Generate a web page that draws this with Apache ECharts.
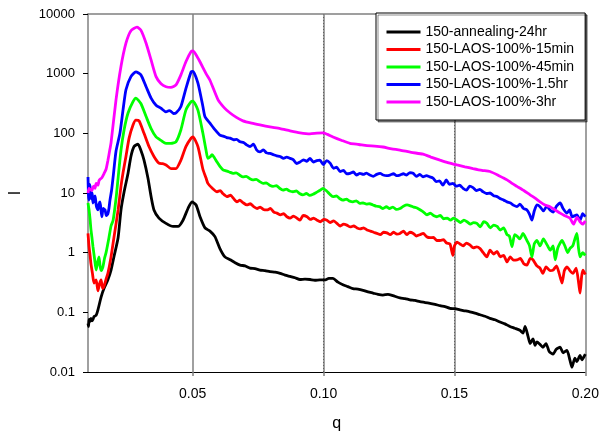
<!DOCTYPE html>
<html><head><meta charset="utf-8">
<script src="https://cdn.jsdelivr.net/npm/echarts@6/dist/echarts.min.js"></script>
<style>html,body{margin:0;padding:0;background:#fff}#c{width:602px;height:434px}</style>
</head><body><div id="c"></div>
<script>
const seriesNames = ['150-annealing-24hr','150-LAOS-100%-15min','150-LAOS-100%-45min','150-LAOS-100%-1.5hr','150-LAOS-100%-3hr'];
const seriesColors = ['#000000','#ff0000','#00ff00','#0000ff','#ff00ff'];
const xTickValues = [0.05,0.10,0.15,0.20];
const yTickLabels = ['0.01','0.1','1','10','100','1000','10000'];

const annealing24hr = [[0.0100,0.065],[0.0102,0.058],[0.0104,0.076],[0.0107,0.070],[0.0111,0.079],[0.0115,0.072],[0.0119,0.076],[0.0123,0.085],[0.0131,0.089],[0.0138,0.11],[0.0150,0.18],[0.0161,0.25],[0.0176,0.35],[0.0188,0.51],[0.0199,0.85],[0.0215,1.78],[0.0226,5.2],[0.0238,10.5],[0.0253,21.4],[0.0264,41],[0.0276,60],[0.0291,66],[0.0302,52],[0.0314,35.5],[0.0329,17.8],[0.0341,8.7],[0.0352,5.2],[0.0371,3.8],[0.0398,3.1],[0.0425,2.75],[0.0444,2.75],[0.0463,3.5],[0.0482,5.5],[0.0497,7.1],[0.0513,6.3],[0.0528,4.0],[0.0547,2.6],[0.0566,2.3],[0.0585,1.86],[0.0604,1.17],[0.0623,0.85],[0.0643,0.76],[0.0662,0.68],[0.0681,0.62],[0.0700,0.60],[0.0719,0.55],[0.0738,0.54],[0.0757,0.51],[0.0776,0.50],[0.0795,0.48],[0.0815,0.47],[0.0834,0.45],[0.0853,0.42],[0.0872,0.40],[0.0891,0.38],[0.0910,0.355],[0.0929,0.36],[0.0948,0.355],[0.0967,0.345],[0.0986,0.35],[0.1005,0.35],[0.1020,0.37],[0.1036,0.37],[0.1055,0.32],[0.1074,0.29],[0.1093,0.27],[0.1112,0.25],[0.1131,0.245],[0.1151,0.234],[0.1170,0.22],[0.1189,0.21],[0.1208,0.20],[0.1227,0.195],[0.1246,0.20],[0.1265,0.19],[0.1292,0.174],[0.1311,0.17],[0.1330,0.162],[0.1349,0.158],[0.1368,0.151],[0.1388,0.146],[0.1407,0.141],[0.1426,0.136],[0.1445,0.129],[0.1464,0.125],[0.1483,0.117],[0.1502,0.115],[0.1521,0.11],[0.1540,0.106],[0.1559,0.102],[0.1578,0.097],[0.1598,0.091],[0.1617,0.086],[0.1636,0.079],[0.1655,0.075],[0.1674,0.069],[0.1693,0.064],[0.1712,0.058],[0.1731,0.054],[0.1750,0.050],[0.1762,0.045],[0.1770,0.058],[0.1781,0.040],[0.1789,0.030],[0.1800,0.036],[0.1808,0.028],[0.1815,0.032],[0.1827,0.029],[0.1838,0.026],[0.1850,0.030],[0.1862,0.022],[0.1877,0.020],[0.1889,0.024],[0.1904,0.026],[0.1915,0.021],[0.1930,0.023],[0.1941,0.016],[0.1949,0.012],[0.1960,0.017],[0.1968,0.015],[0.1980,0.019],[0.1987,0.016],[0.2000,0.020]];

const laos15min = [[0.0100,2.1],[0.0104,1.26],[0.0108,0.9],[0.0111,0.66],[0.0117,0.45],[0.0123,0.31],[0.0131,0.35],[0.0138,0.23],[0.0144,0.3],[0.0150,0.35],[0.0156,0.25],[0.0161,0.27],[0.0169,0.36],[0.0176,0.45],[0.0188,0.85],[0.0199,1.78],[0.0215,5.2],[0.0226,12.9],[0.0234,22],[0.0245,41],[0.0257,83],[0.0272,138],[0.0283,166],[0.0295,162],[0.0314,100],[0.0333,60],[0.0352,41],[0.0371,31.6],[0.0385,31],[0.0398,29.5],[0.0417,25.7],[0.0436,25.7],[0.0455,35.5],[0.0474,60],[0.0494,83],[0.0501,87],[0.0520,60],[0.0539,25],[0.0551,17.8],[0.0558,14.5],[0.0575,12],[0.0593,10.5],[0.0605,11],[0.0615,9.8],[0.0631,8.7],[0.0645,9.2],[0.0655,8.2],[0.0669,7.1],[0.0680,7.6],[0.0692,6.9],[0.0707,6.3],[0.0720,6.6],[0.0733,5.9],[0.0746,5.5],[0.0758,5.8],[0.0770,5.3],[0.0784,5.2],[0.0797,5.5],[0.0810,4.8],[0.0822,4.6],[0.0835,4.3],[0.0847,4.5],[0.0860,4.0],[0.0872,3.8],[0.0885,4.1],[0.0898,3.8],[0.0910,3.5],[0.0922,4.2],[0.0937,4.0],[0.0950,3.6],[0.0962,3.8],[0.0975,3.5],[0.0988,3.3],[0.1000,3.6],[0.1013,3.5],[0.1025,3.2],[0.1038,3.4],[0.1051,3.1],[0.1064,2.8],[0.1076,3.0],[0.1089,2.9],[0.1102,2.7],[0.1115,2.8],[0.1128,2.6],[0.1140,2.5],[0.1153,2.6],[0.1166,2.4],[0.1179,2.3],[0.1191,2.2],[0.1204,2.1],[0.1217,2.0],[0.1229,2.2],[0.1242,2.15],[0.1255,2.0],[0.1267,2.2],[0.1280,2.05],[0.1292,2.1],[0.1305,2.3],[0.1318,2.0],[0.1330,2.2],[0.1343,2.1],[0.1355,1.9],[0.1368,2.0],[0.1381,2.1],[0.1394,1.85],[0.1407,1.78],[0.1420,1.8],[0.1432,1.6],[0.1445,1.6],[0.1458,1.65],[0.1470,1.45],[0.1483,1.4],[0.1494,0.9],[0.1500,1.3],[0.1510,1.5],[0.1521,1.4],[0.1533,1.3],[0.1546,1.45],[0.1559,1.35],[0.1572,1.2],[0.1585,1.25],[0.1598,1.17],[0.1610,1.0],[0.1624,0.85],[0.1636,1.1],[0.1650,0.95],[0.1663,1.05],[0.1675,0.85],[0.1688,0.9],[0.1701,0.7],[0.1713,0.85],[0.1726,0.75],[0.1739,0.76],[0.1752,0.8],[0.1765,0.65],[0.1777,0.62],[0.1790,0.8],[0.1800,0.76],[0.1815,0.6],[0.1827,0.55],[0.1838,0.45],[0.1850,0.58],[0.1865,0.5],[0.1877,0.51],[0.1890,0.6],[0.1900,0.45],[0.1911,0.31],[0.1920,0.5],[0.1930,0.58],[0.1941,0.5],[0.1953,0.45],[0.1965,0.55],[0.1975,0.3],[0.1980,0.21],[0.1986,0.4],[0.1991,0.51],[0.2000,0.43]];

const laos45min = [[0.0100,6.8],[0.0104,5.2],[0.0108,3.6],[0.0111,2.5],[0.0115,1.8],[0.0119,1.26],[0.0125,0.8],[0.0131,0.51],[0.0137,0.7],[0.0142,0.85],[0.0146,0.6],[0.0150,0.5],[0.0157,0.58],[0.0163,0.8],[0.0169,1.0],[0.0180,1.78],[0.0188,2.8],[0.0196,3.5],[0.0207,8],[0.0215,17.8],[0.0226,52],[0.0238,115],[0.0253,219],[0.0272,339],[0.0283,389],[0.0302,316],[0.0322,191],[0.0341,120],[0.0360,87],[0.0379,76],[0.0398,68],[0.0417,68],[0.0436,72],[0.0455,115],[0.0474,245],[0.0494,339],[0.0501,347],[0.0520,245],[0.0539,100],[0.0551,52],[0.0558,38],[0.0566,40],[0.0574,44],[0.0583,39],[0.0593,33],[0.0604,28],[0.0616,24.5],[0.0628,23.5],[0.0640,22.5],[0.0654,21.4],[0.0666,21.8],[0.0680,19.8],[0.0692,18.6],[0.0705,19],[0.0717,17.5],[0.0730,16.6],[0.0743,16.9],[0.0756,15.5],[0.0769,14.5],[0.0781,14.8],[0.0794,13.5],[0.0807,12.9],[0.0820,13.3],[0.0832,12.0],[0.0845,11.2],[0.0858,11.6],[0.0870,10.8],[0.0883,10.5],[0.0896,10.8],[0.0908,9.8],[0.0921,9.3],[0.0934,9.8],[0.0947,9.1],[0.0960,9.5],[0.0972,10.2],[0.0985,11],[0.0998,12],[0.1010,11],[0.1023,9.6],[0.1036,8.7],[0.1049,8.9],[0.1061,8.1],[0.1074,7.6],[0.1087,7.9],[0.1100,7.3],[0.1112,7.1],[0.1125,7.4],[0.1138,6.7],[0.1151,6.8],[0.1164,6.5],[0.1176,6.6],[0.1189,6.3],[0.1202,6.0],[0.1214,5.9],[0.1227,5.5],[0.1240,5.9],[0.1252,5.5],[0.1265,5.8],[0.1278,5.3],[0.1292,5.5],[0.1305,6.0],[0.1319,6.3],[0.1332,6.1],[0.1345,5.8],[0.1357,5.6],[0.1370,5.2],[0.1382,4.8],[0.1395,4.3],[0.1408,4.6],[0.1420,4.2],[0.1433,4.0],[0.1446,4.2],[0.1459,3.7],[0.1472,3.8],[0.1485,3.5],[0.1497,3.8],[0.1510,3.5],[0.1523,3.2],[0.1536,3.5],[0.1548,3.3],[0.1561,3.0],[0.1573,3.2],[0.1586,3.1],[0.1599,2.7],[0.1612,3.3],[0.1624,3.1],[0.1637,2.6],[0.1650,2.9],[0.1663,2.75],[0.1675,2.4],[0.1688,2.6],[0.1701,2.0],[0.1710,1.9],[0.1720,1.26],[0.1730,2.0],[0.1739,1.9],[0.1750,1.7],[0.1762,2.1],[0.1777,1.6],[0.1787,1.3],[0.1796,0.85],[0.1805,1.4],[0.1815,1.6],[0.1827,1.3],[0.1840,1.7],[0.1854,1.35],[0.1866,1.1],[0.1877,1.3],[0.1885,0.76],[0.1895,1.2],[0.1911,1.6],[0.1922,1.3],[0.1933,1.0],[0.1941,1.17],[0.1952,1.3],[0.1962,1.8],[0.1968,2.1],[0.1974,1.2],[0.1980,0.85],[0.1990,1.0],[0.2000,0.9]];

const laos1_5hr = [[0.0100,18.6],[0.0102,9],[0.0104,7.6],[0.0106,14],[0.0108,12.6],[0.0112,8],[0.0116,10],[0.0119,6.8],[0.0123,7.5],[0.0127,8.9],[0.0132,6],[0.0138,5.2],[0.0142,6.5],[0.0146,7.1],[0.0150,5],[0.0153,4.0],[0.0158,5.5],[0.0165,5.2],[0.0170,4.2],[0.0176,4.5],[0.0180,5.5],[0.0184,7.6],[0.0190,11],[0.0196,18.6],[0.0207,50],[0.0222,100],[0.0234,250],[0.0245,537],[0.0264,891],[0.0283,1072],[0.0302,955],[0.0322,603],[0.0341,389],[0.0360,295],[0.0379,263],[0.0398,229],[0.0410,240],[0.0417,234],[0.0426,215],[0.0436,219],[0.0455,282],[0.0474,562],[0.0494,1072],[0.0501,1096],[0.0520,692],[0.0539,282],[0.0547,190],[0.0566,148],[0.0585,115],[0.0604,93],[0.0617,90],[0.0630,85],[0.0643,83],[0.0656,78],[0.0668,79],[0.0681,72],[0.0694,70],[0.0706,64],[0.0719,60],[0.0732,66],[0.0744,53],[0.0757,49],[0.0770,53],[0.0782,47],[0.0795,46],[0.0808,44],[0.0821,42],[0.0834,41],[0.0847,38],[0.0859,40],[0.0872,38],[0.0885,36],[0.0897,31],[0.0910,33],[0.0923,36],[0.0936,34],[0.0948,38],[0.0961,33],[0.0974,35],[0.0986,35.5],[0.0999,30],[0.1012,35],[0.1025,31.6],[0.1038,26],[0.1050,27],[0.1063,22.9],[0.1076,24],[0.1088,21],[0.1101,21.4],[0.1114,22.5],[0.1126,20],[0.1139,21.4],[0.1152,20.5],[0.1164,21.6],[0.1177,20],[0.1190,19],[0.1203,20.5],[0.1216,21.4],[0.1228,20],[0.1241,19.5],[0.1254,20],[0.1267,21],[0.1279,19.5],[0.1292,20],[0.1305,21],[0.1317,20],[0.1330,22],[0.1342,21.4],[0.1355,19],[0.1368,20.5],[0.1380,18.6],[0.1393,19.5],[0.1406,18.6],[0.1418,17.8],[0.1431,15.5],[0.1443,16],[0.1456,13.5],[0.1469,16.5],[0.1481,14],[0.1494,14.5],[0.1507,13],[0.1520,13.5],[0.1533,12],[0.1546,11.2],[0.1558,13],[0.1571,12.3],[0.1584,11],[0.1597,11.5],[0.1609,10.5],[0.1622,9.8],[0.1636,10],[0.1650,9],[0.1663,8.7],[0.1676,8.0],[0.1688,7.6],[0.1701,7.1],[0.1714,6.8],[0.1727,6.2],[0.1739,5.9],[0.1750,6.5],[0.1764,5.5],[0.1777,5.2],[0.1787,4.4],[0.1796,3.5],[0.1805,5.0],[0.1815,6.3],[0.1827,5.9],[0.1840,5.0],[0.1853,6.0],[0.1865,5.2],[0.1877,4.8],[0.1890,6.0],[0.1904,6.8],[0.1915,5.5],[0.1930,4.6],[0.1940,5.2],[0.1950,4.0],[0.1968,4.3],[0.1980,3.5],[0.1990,4.5],[0.2000,4.0]];

const laos3hr = [[0.0100,10],[0.0104,12],[0.0108,11.5],[0.0115,11],[0.0119,12.5],[0.0123,13],[0.0127,12],[0.0131,14.5],[0.0138,13.5],[0.0142,16],[0.0146,17],[0.0153,18],[0.0161,21],[0.0169,25],[0.0176,35],[0.0184,55],[0.0188,69],[0.0207,363],[0.0226,1318],[0.0245,3236],[0.0264,5248],[0.0287,6026],[0.0302,5370],[0.0322,3236],[0.0341,1698],[0.0360,891],[0.0379,676],[0.0398,603],[0.0417,589],[0.0436,646],[0.0455,955],[0.0474,1585],[0.0494,2344],[0.0501,2399],[0.0524,1698],[0.0551,1000],[0.0566,776],[0.0597,363],[0.0620,270],[0.0643,219],[0.0667,185],[0.0692,162],[0.0725,148],[0.0757,138],[0.0795,128],[0.0834,120],[0.0872,110],[0.0910,102],[0.0948,98],[0.0975,101],[0.0998,102],[0.1015,96],[0.1036,87],[0.1070,76],[0.1101,68],[0.1135,65],[0.1166,62],[0.1195,61],[0.1227,59],[0.1260,55],[0.1292,52.5],[0.1335,48],[0.1380,44.7],[0.1410,40],[0.1445,35.5],[0.1478,32],[0.1510,29.5],[0.1540,27.5],[0.1571,25.7],[0.1605,24],[0.1636,22.9],[0.1670,19.5],[0.1701,16.6],[0.1720,14.5],[0.1739,12.9],[0.1765,11],[0.1789,9.3],[0.1808,8.2],[0.1827,7.1],[0.1846,6.3],[0.1865,5.9],[0.1885,5.2],[0.1904,4.6],[0.1920,4.2],[0.1941,3.8],[0.1955,3.0],[0.1968,3.9],[0.1980,3.3],[0.1990,3.0],[0.2000,3.4]];

const seriesData = [annealing24hr, laos15min, laos45min, laos1_5hr, laos3hr];
const FONT = 'Liberation Sans, Arial, sans-serif';
const T = 'rgba(0,0,0,0)';

const chart = echarts.init(document.getElementById('c'), null, {renderer: 'canvas'});
chart.setOption({
  animation: false,
  backgroundColor: '#fff',
  textStyle: {fontFamily: FONT},
  grid: {left: 88, right: 16.7, top: 14, bottom: 62, containLabel: false, outerBoundsMode: 'none'},
  legend: {
    orient: 'vertical', left: 376, top: 13,
    itemWidth: 34, itemHeight: 14, itemGap: 3.5,
    padding: [12, 11, 11, 9],
    backgroundColor: '#fff', borderColor: '#000', borderWidth: 1,
    shadowColor: 'rgba(0,0,0,0.45)', shadowOffsetX: 2, shadowOffsetY: 2, shadowBlur: 0,
    itemStyle: {opacity: 0},
    lineStyle: {width: 3},
    textStyle: {fontSize: 14, color: '#000', fontFamily: FONT},
    data: seriesNames
  },
  xAxis: [{
    type: 'value', min: 0.01, max: 0.2, interval: 0.01,
    name: 'q', nameLocation: 'middle', nameGap: 44,
    nameTextStyle: {fontSize: 16, color: '#000', fontFamily: FONT},
    axisLine: {show: true, lineStyle: {color: '#000', width: 1}},
    axisTick: {show: true, customValues: xTickValues, length: 4, lineStyle: {color: '#808080', width: 1.5}},
    axisLabel: {customValues: xTickValues, formatter: v => v.toFixed(2), margin: 15, fontSize: 14, color: '#000', fontFamily: FONT},
    splitLine: {show: true, showMinLine: false, showMaxLine: false,
      lineStyle: {type: [1, 2], color: ['#000', '#000', '#000', '#000', T], width: 1}}
  }, {
    type: 'value', position: 'top', min: 0.01, max: 0.2, interval: 0.01,
    axisLine: {show: true, lineStyle: {color: '#808080', width: 1.5}},
    axisTick: {show: false}, axisLabel: {show: false},
    splitLine: {show: true, lineStyle: {type: 'solid', color: [T, T, T, T, '#808080'], width: 1.5}}
  }],
  yAxis: {
    type: 'log', logBase: 10, min: 0.01, max: 10000, splitNumber: 6,
    name: 'I', nameLocation: 'middle', nameGap: 64, nameRotate: 90,
    nameTextStyle: {fontSize: 16, color: '#000', fontFamily: FONT},
    axisLine: {show: true, lineStyle: {color: '#808080', width: 1.5}},
    axisTick: {show: true, length: 5, lineStyle: {color: '#000', width: 1}},
    axisLabel: {margin: 13, fontSize: 13, color: '#000', fontFamily: FONT,
      formatter: v => yTickLabels[Math.round(Math.log10(v)) + 2]},
    splitLine: {show: false}, minorTick: {show: false}
  },
  series: seriesNames.map((n, i) => ({
    name: n, type: 'line', xAxisIndex: 0, data: seriesData[i],
    showSymbol: false, symbol: 'none', smooth: 0.2,
    lineStyle: {color: seriesColors[i], width: 2.8},
    itemStyle: {color: seriesColors[i]},
    z: 3 + i
  }))
});
</script></body></html>
